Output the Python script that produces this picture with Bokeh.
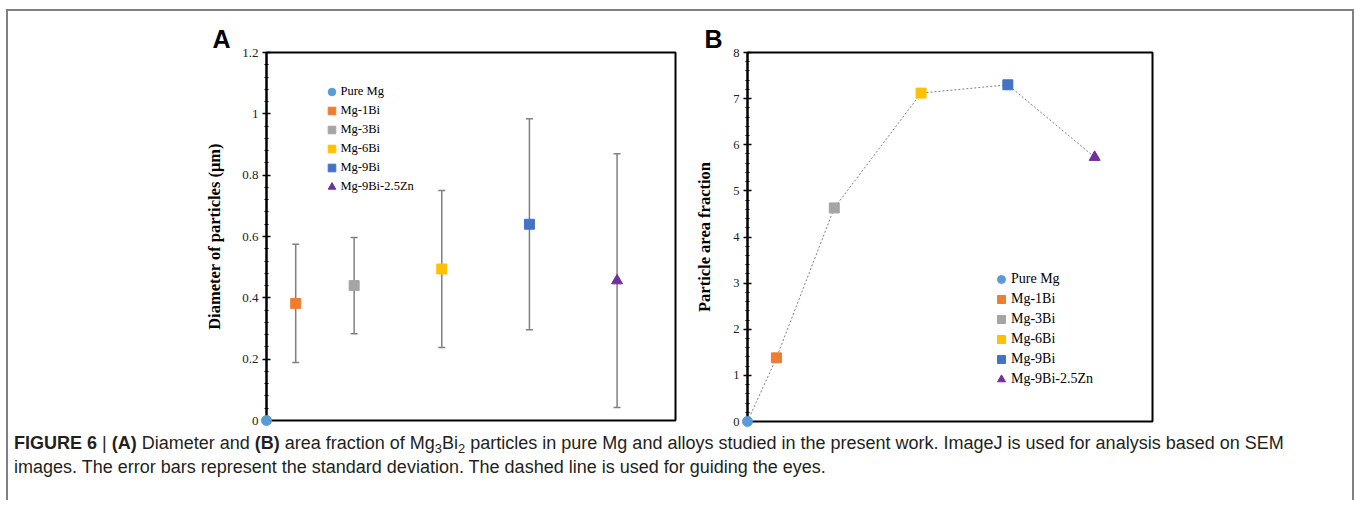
from bokeh.plotting import figure
from bokeh.models import (ColumnDataSource, Whisker, TeeHead, Legend, LegendItem,
                          FixedTicker, NumeralTickFormatter, Title, Div, Range1d)
from bokeh.layouts import row, column
from bokeh.embed import file_html
from bokeh.resources import INLINE

# ---------------- data ----------------
alloys = ["Pure Mg", "Mg-1Bi", "Mg-3Bi", "Mg-6Bi", "Mg-9Bi", "Mg-9Bi-2.5Zn"]
x_position = [0, 1, 3, 6, 9, 12]
diameter = [0.0, 0.382, 0.440, 0.494, 0.640, 0.456]
diameter_sd = [0.0, 0.193, 0.157, 0.256, 0.344, 0.414]
area_fraction = [0.0, 1.38, 4.63, 7.12, 7.30, 5.73]
ticks_a = [0, 0.2, 0.4, 0.6, 0.8, 1.0, 1.2]
ticks_b = [0, 1, 2, 3, 4, 5, 6, 7, 8]

markers = ["circle", "square", "square", "square", "square", "triangle"]
colors = ["#5B9BD5", "#ED7D31", "#A5A5A5", "#FFC000", "#4472C4", "#7030A0"]

SERIF = "Liberation Serif"
SANS = "Liberation Sans"


def base_fig(x_end, y_end, fw, fh, left, top, right, bottom, letter):
    p = figure(frame_width=fw, frame_height=fh,
               min_border_left=left, min_border_top=top,
               min_border_right=right, min_border_bottom=bottom,
               x_range=Range1d(0, x_end), y_range=Range1d(0, y_end),
               output_backend="svg", toolbar_location=None, tools="")
    p.title = Title(text=letter, align="left", offset=-54 if letter == "A" else -43,
                    standoff=0, text_font=SANS, text_font_style="bold",
                    text_font_size="25px", text_color="black")
    p.xaxis.visible = False
    p.grid.visible = False
    p.outline_line_color = "black"
    p.outline_line_width = 2
    p.background_fill_color = "white"
    p.border_fill_color = "white"
    ax = p.yaxis[0]
    ax.axis_line_color = "black"
    ax.axis_line_width = 2
    ax.major_tick_line_color = "black"
    ax.major_tick_line_width = 1.5
    ax.minor_tick_line_color = "black"
    ax.minor_tick_line_width = 1.2
    ax.major_tick_in = 4
    ax.major_tick_out = 4
    ax.minor_tick_in = 2
    ax.minor_tick_out = 2
    ax.major_label_text_font = SERIF
    ax.major_label_text_color = "#222222"
    ax.axis_label_text_font = SERIF
    ax.axis_label_text_font_style = "bold"
    ax.axis_label_text_color = "black"
    ax.axis_label_text_font_size = "16.5px"
    ax.major_label_standoff = 4
    return p


# ---------------- panel A ----------------
pa = base_fig(14, 1.2, 409, 368, 258, 41, 14, 10, "A")
ya = pa.yaxis[0]
ya.ticker = FixedTicker(ticks=ticks_a, minor_ticks=[round(i * 0.04, 2) for i in range(31)])
ya.formatter = NumeralTickFormatter(format="0.[0]")
ya.major_label_text_font_size = "13px"
ya.axis_label = "Diameter of particles (μm)"
ya.axis_label_standoff = 15

err_src = ColumnDataSource(dict(
    x=x_position[1:],
    lower=[d - s for d, s in zip(diameter[1:], diameter_sd[1:])],
    upper=[d + s for d, s in zip(diameter[1:], diameter_sd[1:])],
))
wh = Whisker(source=err_src, base="x", lower="lower", upper="upper",
             line_color="#808080", line_width=1.5,
             lower_head=TeeHead(size=7, line_color="#808080", line_width=1.5),
             upper_head=TeeHead(size=7, line_color="#808080", line_width=1.5))
pa.add_layout(wh)

items_a = []
for i, name in enumerate(alloys):
    src = ColumnDataSource(dict(x=[x_position[i]], y=[diameter[i]]))
    r = pa.scatter("x", "y", source=src, marker=markers[i],
                   size=11 if markers[i] == "triangle" else 10,
                   fill_color=colors[i], line_color=colors[i], level="overlay")
    items_a.append(LegendItem(label=name, renderers=[r]))

leg_a = Legend(items=items_a, location=(55.5, 224.5), padding=0, margin=0,
               spacing=0, glyph_width=19, glyph_height=19, label_height=19,
               label_standoff=0, border_line_alpha=0, background_fill_alpha=0,
               label_text_font=SERIF, label_text_font_size="12.5px",
               label_text_color="black")
pa.add_layout(leg_a)

# ---------------- panel B ----------------
pb = base_fig(14, 8, 405, 369, 58, 39, 200, 11, "B")
yb = pb.yaxis[0]
yb.ticker = FixedTicker(ticks=ticks_b, minor_ticks=[round(i * 0.2, 1) for i in range(41)])
yb.major_label_text_font_size = "12.5px"
yb.axis_label = "Particle area fraction"
yb.axis_label_standoff = 16

line_src = ColumnDataSource(dict(x=x_position, y=area_fraction))
pb.line("x", "y", source=line_src, line_color="#7f7f7f", line_width=1, line_dash="2 2")

items_b = []
for i, name in enumerate(alloys):
    src = ColumnDataSource(dict(x=[x_position[i]], y=[area_fraction[i]]))
    r = pb.scatter("x", "y", source=src, marker=markers[i],
                   size=11 if markers[i] == "triangle" else 10,
                   fill_color=colors[i], line_color=colors[i], level="overlay")
    items_b.append(LegendItem(label=name, renderers=[r]))

leg_b = Legend(items=items_b, location=(244, 31.7), padding=0, margin=0,
               spacing=0, glyph_width=20, glyph_height=20, label_height=20,
               label_standoff=0, border_line_alpha=0, background_fill_alpha=0,
               label_text_font=SERIF, label_text_font_size="14px",
               label_text_color="black")
pb.add_layout(leg_b)

# ---------------- caption ----------------
SUB = '<span style="font-size:0.72em; position:relative; top:0.3em; line-height:0">{}</span>'
caption_html = (
    "<b>FIGURE 6</b> | <b>(A)</b> Diameter and <b>(B)</b> area fraction of "
    "Mg" + SUB.format("3") + "Bi" + SUB.format("2") +
    " particles in pure Mg and alloys studied in the present work. "
    "ImageJ is used for analysis based on SEM<br>"
    "images. The error bars represent the standard deviation. The dashed line is used for guiding the eyes."
)
cap = Div(text=caption_html, width=1344, height=70, margin=0,
          styles={"font-family": "Liberation Sans, Arial, sans-serif", "font-size": "18px",
                  "line-height": "24px", "color": "#231f20", "padding-left": "6px",
                  "padding-top": "1px", "white-space": "nowrap"})

root = column(row(pa, pb), cap, margin=(9, 0, 0, 6),
              styles={"border-top": "2px solid #808080", "border-left": "2px solid #808080",
                      "border-right": "2px solid #808080"})

open("out.html", "w").write(file_html(root, INLINE))
